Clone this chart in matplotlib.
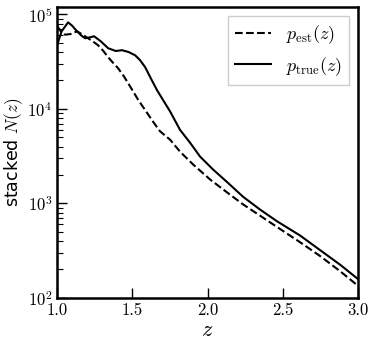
import numpy as np
import matplotlib
matplotlib.use("Agg")
from matplotlib import pyplot as plt

plt.rcParams["mathtext.fontset"] = "cm"
plt.rcParams["font.family"] = "serif"
plt.rcParams["font.serif"] = ["cmr10", "DejaVu Serif"]
plt.rcParams["axes.formatter.use_mathtext"] = True

# values (z, stacked N(z))
z_true = [1.00, 1.03, 1.073, 1.10, 1.126, 1.16, 1.186, 1.215, 1.246, 1.29, 1.339, 1.39,
          1.432, 1.475, 1.518, 1.55, 1.585, 1.62, 1.664, 1.71, 1.751, 1.817, 1.884, 1.95,
          2.037, 2.13, 2.236, 2.349, 2.462, 2.615, 2.748, 2.88, 3.00]
n_true = [47200, 66000, 82400, 76000, 68000, 60000, 55900, 57000, 58700, 52000, 43900, 41000,
          41800, 40000, 37000, 33000, 27700, 21500, 15800, 12000, 9400, 6000, 4380, 3130,
          2280, 1680, 1175, 860, 646, 457, 320, 225, 158]

z_est = [1.00, 1.025, 1.053, 1.09, 1.133, 1.17, 1.206, 1.24, 1.272, 1.305, 1.339, 1.37,
         1.405, 1.445, 1.49, 1.54, 1.598, 1.64, 1.684, 1.751, 1.817, 1.904, 2.017, 2.13,
         2.236, 2.349, 2.462, 2.615, 2.748, 2.88, 3.00]
n_est = [76000, 66000, 61000, 62000, 66200, 61000, 55900, 51500, 47200, 41500, 35300, 31000,
         27000, 22000, 16800, 12400, 9080, 7240, 5800, 4720, 3530, 2580, 1790, 1306,
         976, 741, 562, 388, 277, 192, 134]

fig = plt.figure(figsize=(3.73, 3.46), dpi=100)
ax = fig.add_axes([0.153, 0.139, 0.807, 0.841])

ax.plot(z_est, n_est, "k--", lw=1.5, label=r"$p_{\rm est}(z)$")
ax.plot(z_true, n_true, "k-", lw=1.5, label=r"$p_{\rm true}(z)$")

ax.set_yscale("log")
ax.set_xlim(1.0, 3.0)
ax.set_ylim(1e2, 1.2e5)
ax.set_xticks([1.0, 1.5, 2.0, 2.5, 3.0])
ax.set_xticklabels(["1.0", "1.5", "2.0", "2.5", "3.0"])

ax.tick_params(which="both", direction="in", top=False, right=False, labelsize=12)
ax.tick_params(which="major", length=7, width=1)
ax.tick_params(which="minor", length=4, width=0.8)
for s in ax.spines.values():
    s.set_linewidth(1.8)

ax.set_xlabel(r"$z$", fontsize=16, labelpad=2)
ax.set_ylabel(r"stacked $N(z)$", fontsize=12.5, family="DejaVu Sans")
ax.yaxis.set_label_coords(-0.106, 0.5)

leg = ax.legend(loc="upper right", fontsize=13, fancybox=False, framealpha=1.0,
                edgecolor="#cccccc", borderaxespad=0.5)

fig.savefig("out.png", dpi=100)
